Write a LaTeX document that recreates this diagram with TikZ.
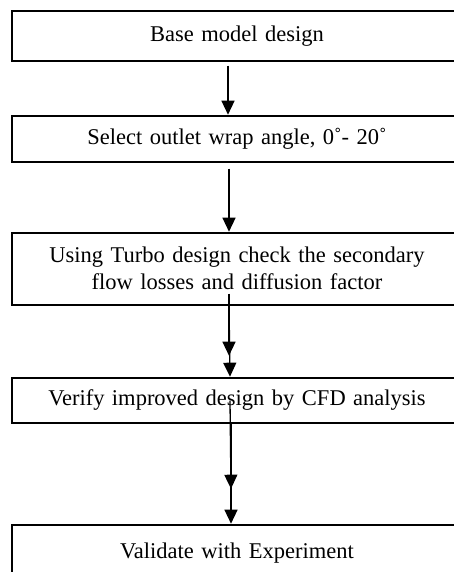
\documentclass[tikz,border=0pt]{standalone}
\usepackage{fontspec}
\setmainfont{Liberation Serif}
\usetikzlibrary{arrows.meta, positioning}
\tikzset{
  every picture/.style={line width=1.2pt},
  stage/.style={draw=black, line width=2pt, text width=450pt, inner sep=0pt, align=center, font=\fontsize{22.5}{27}\selectfont},
  arrow/.style={-{Triangle[length=14pt, width=13pt]}, draw=black, line width=1.3pt},
}

\begin{document}
\begin{tikzpicture}
  \path[use as bounding box] (0,0) rectangle (454pt,-572pt);
  \clip (0,0) rectangle (454pt,-572pt);
  \node[stage, minimum height=50pt] (base) at (237pt,-35.7pt) {Base model design};
  \node[stage, minimum height=46pt, below=53pt of base] (wrap) {Select outlet wrap angle, 0˚- 20˚};
  \node[stage, minimum height=72pt, below=69pt of wrap] (turbo) {Using Turbo design check the secondary\\ flow losses and diffusion factor};
  \node[stage, minimum height=45pt, below=71pt of turbo] (cfd) {Verify improved design by CFD analysis};
  \node[stage, minimum height=56pt, below=100pt of cfd] (exp) {Validate with Experiment};
  % the two lower steps have doubled arrows
  \coordinate (turbomid) at ([xshift=-8pt,yshift=21pt]cfd.north);
  \coordinate (cfdmid) at ([xshift=-6pt,yshift=35pt]exp.north);
  \draw[arrow] ([xshift=-9pt,yshift=-4pt]base.south) -- ([xshift=-9pt]wrap.north);
  \draw[arrow] ([xshift=-8pt,yshift=-6pt]wrap.south) -- ([xshift=-8pt]turbo.north);
  \draw[arrow] ([xshift=-8pt,yshift=12pt]turbo.south) -- (turbomid);
  \draw[arrow] ([xshift=-8pt]turbo.south) -- ([xshift=-7pt]cfd.north);
  \draw[arrow] ([xshift=-7pt,yshift=23pt]cfd.south) -- (cfdmid);
  \draw[arrow] ([xshift=-6pt]cfd.south) -- ([xshift=-6pt]exp.north);
\end{tikzpicture}
\end{document}
